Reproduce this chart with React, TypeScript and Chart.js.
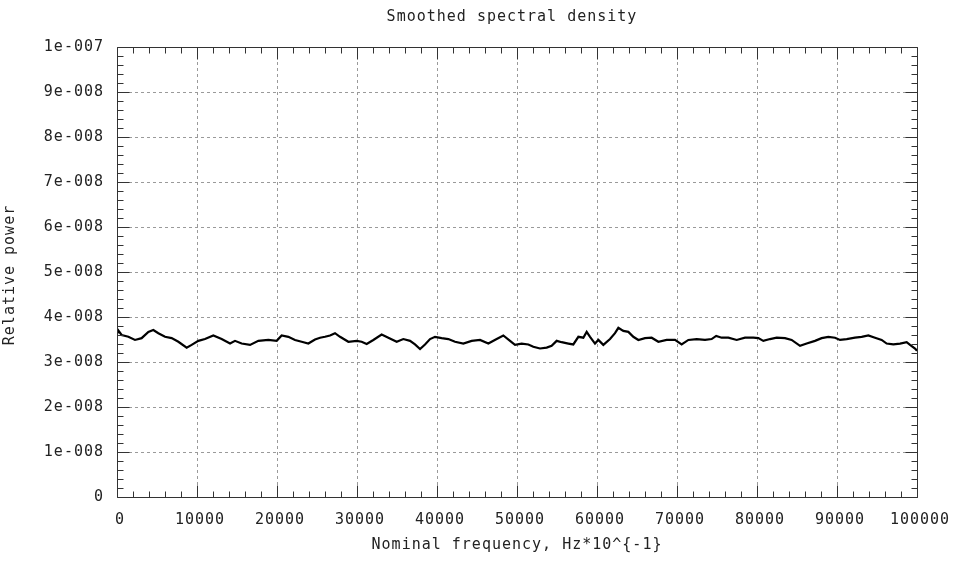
import React, { useEffect, useRef } from "react";
import { Chart, registerables } from "chart.js";

Chart.register(...registerables);

const CHART_TITLE = "Smoothed spectral density";
const X_TITLE = "Nominal frequency, Hz*10^{-1}";
const Y_TITLE = "Relative power";

const X_MIN = 0;
const X_MAX = 100000;
const X_MAJOR = 10000;
const X_MINOR = 2000;
const Y_MIN = 0;
const Y_MAX = 1e-7;
const Y_MAJOR = 1e-8;
const Y_MINOR = 2e-9;
const Y_UNIT = 1e-8;

const Y_TICK_LABELS = [
  "0", "1e-008", "2e-008", "3e-008", "4e-008", "5e-008",
  "6e-008", "7e-008", "8e-008", "9e-008", "1e-007",
];

// frequencies (Hz*10^-1)
const FREQ = [
  0, 170, 580, 1420, 2250, 3080, 3920, 4540, 5170, 6000,
  6830, 7670, 8710, 9330, 10170, 11000, 12040, 13080, 14130, 14750,
  15580, 16630, 17670, 18920, 19960, 20580, 21420, 22250, 23080, 23920,
  24750, 25380, 26000, 26630, 27250, 27880, 28920, 29960, 30580, 31210,
  32040, 33080, 33920, 34960, 35790, 36630, 37250, 37880, 38500, 39130,
  39750, 40580, 41420, 42250, 43290, 44330, 45380, 46420, 47460, 48290,
  49130, 49750, 50580, 51420, 52040, 52880, 53710, 54330, 54960, 55580,
  56420, 57040, 57670, 58290, 58710, 59130, 59750, 60170, 60790, 61630,
  62250, 62670, 63290, 63920, 64540, 65170, 66000, 66830, 67670, 68710,
  69750, 70580, 71420, 72460, 73500, 74330, 74900, 75580, 76420, 77460,
  78500, 79540, 80170, 80790, 81630, 82460, 83500, 84330, 85380, 86210,
  87250, 88080, 88920, 89750, 90380, 91210, 92250, 93080, 93920, 94750,
  95580, 96210, 97040, 97880, 98710, 99130, 99750, 100000,
];

// relative power, in units of 1e-8
const POWER_E8 = [
  3.62, 3.70, 3.60, 3.56, 3.49, 3.53, 3.67, 3.71, 3.64, 3.56,
  3.53, 3.45, 3.32, 3.38, 3.47, 3.51, 3.59, 3.51, 3.41, 3.47,
  3.41, 3.38, 3.47, 3.49, 3.47, 3.59, 3.56, 3.49, 3.45, 3.41,
  3.50, 3.54, 3.56, 3.59, 3.64, 3.56, 3.45, 3.47, 3.45, 3.40,
  3.49, 3.61, 3.54, 3.45, 3.51, 3.47, 3.39, 3.29, 3.39, 3.51,
  3.56, 3.53, 3.51, 3.45, 3.41, 3.47, 3.49, 3.41, 3.51, 3.59,
  3.47, 3.38, 3.41, 3.39, 3.34, 3.30, 3.32, 3.36, 3.47, 3.44,
  3.41, 3.39, 3.56, 3.54, 3.67, 3.56, 3.41, 3.49, 3.38, 3.51,
  3.64, 3.76, 3.69, 3.67, 3.56, 3.49, 3.53, 3.54, 3.45, 3.49,
  3.49, 3.39, 3.49, 3.51, 3.49, 3.51, 3.58, 3.54, 3.54, 3.49,
  3.54, 3.54, 3.53, 3.47, 3.51, 3.54, 3.53, 3.49, 3.36, 3.41,
  3.47, 3.53, 3.56, 3.54, 3.49, 3.51, 3.54, 3.56, 3.59, 3.54,
  3.49, 3.41, 3.39, 3.41, 3.44, 3.38, 3.30, 3.25,
];

const FONT_FAMILY = '"DejaVu Sans Mono", "Liberation Mono", monospace';
const FONT_SIZE = 15;
const TEXT_COLOR = "#222";
const FRAME_COLOR = "#333";
const GRID_COLOR = "#9a9a9a";

const framePlugin = {
  id: "gnuplotFrame",
  beforeDraw(chart: any) {
    chart.ctx.letterSpacing = "1px";
  },
  beforeDatasetsDraw(chart: any) {
    const ctx = chart.ctx;
    const xs = chart.scales.x;
    const ys = chart.scales.y;
    const { left, right, top, bottom } = chart.chartArea;
    ctx.save();
    ctx.strokeStyle = GRID_COLOR;
    ctx.lineWidth = 1;
    ctx.setLineDash([3, 3]);
    xs.ticks.forEach((t: any) => {
      if (t.value <= X_MIN || t.value >= X_MAX) return;
      const px = Math.round(xs.getPixelForValue(t.value)) + 0.5;
      ctx.beginPath();
      ctx.moveTo(px, bottom);
      ctx.lineTo(px, top);
      ctx.stroke();
    });
    ys.ticks.forEach((t: any) => {
      if (t.value <= Y_MIN + 1e-12 || t.value >= Y_MAX - 1e-12) return;
      const py = Math.round(ys.getPixelForValue(t.value)) + 0.5;
      ctx.beginPath();
      ctx.moveTo(left, py);
      ctx.lineTo(right, py);
      ctx.stroke();
    });
    ctx.restore();
  },
  afterDraw(chart: any) {
    const ctx = chart.ctx;
    const xs = chart.scales.x;
    const ys = chart.scales.y;
    const { left, right, top, bottom } = chart.chartArea;
    ctx.save();
    ctx.strokeStyle = FRAME_COLOR;
    ctx.lineWidth = 1;
    ctx.setLineDash([]);
    const L = Math.round(left) + 0.5;
    const R = Math.round(right) + 0.5;
    const T = Math.round(top) + 0.5;
    const B = Math.round(bottom) + 0.5;
    ctx.beginPath();
    ctx.moveTo(L, T);
    ctx.lineTo(R, T);
    ctx.lineTo(R, B);
    ctx.lineTo(L, B);
    ctx.closePath();
    ctx.stroke();

    const nx = Math.round((X_MAX - X_MIN) / X_MINOR);
    for (let i = 0; i <= nx; i++) {
      const v = X_MIN + i * X_MINOR;
      const major = i % Math.round(X_MAJOR / X_MINOR) === 0;
      const len = major ? 12 : 6;
      const px = Math.round(xs.getPixelForValue(v)) + 0.5;
      ctx.beginPath();
      ctx.moveTo(px, B);
      ctx.lineTo(px, B - len);
      ctx.moveTo(px, T);
      ctx.lineTo(px, T + len);
      ctx.stroke();
    }
    const ny = Math.round((Y_MAX - Y_MIN) / Y_MINOR);
    for (let i = 0; i <= ny; i++) {
      const v = Y_MIN + i * Y_MINOR;
      const major = i % Math.round(Y_MAJOR / Y_MINOR) === 0;
      const len = major ? 12 : 6;
      const py = Math.round(ys.getPixelForValue(v)) + 0.5;
      ctx.beginPath();
      ctx.moveTo(L, py);
      ctx.lineTo(L + len, py);
      ctx.moveTo(R, py);
      ctx.lineTo(R - len, py);
      ctx.stroke();
    }

    ctx.fillStyle = TEXT_COLOR;
    ctx.font = `${FONT_SIZE}px ${FONT_FAMILY}`;
    ctx.letterSpacing = "1px";
    ctx.textAlign = "center";
    ctx.textBaseline = "middle";
    ctx.fillText(CHART_TITLE, 512, 17);
    ctx.fillText(X_TITLE, (left + right) / 2, 545);
    ctx.translate(10, 275);
    ctx.rotate(-Math.PI / 2);
    ctx.fillText(Y_TITLE, 0, 0);
    ctx.restore();
  },
};

export default function App() {
  const canvasRef = useRef<HTMLCanvasElement | null>(null);

  useEffect(() => {
    if (!canvasRef.current) return;
    const points = FREQ.map((f, i) => ({ x: f, y: POWER_E8[i] * Y_UNIT }));
    const tickFont = { family: FONT_FAMILY, size: FONT_SIZE };
    const chart = new Chart(canvasRef.current, {
      type: "line",
      data: {
        datasets: [
          {
            data: points,
            borderColor: "#000",
            borderWidth: 2.2,
            pointRadius: 0,
            tension: 0,
            fill: false,
          },
        ],
      },
      options: {
        animation: false,
        responsive: false,
        maintainAspectRatio: false,
        layout: { padding: { top: 47, right: 38, bottom: 0, left: 0 } },
        plugins: {
          legend: { display: false },
          title: { display: false },
          tooltip: { enabled: false },
        },
        scales: {
          x: {
            type: "linear",
            min: X_MIN,
            max: X_MAX,
            grid: { display: false },
            border: { display: false },
            ticks: {
              stepSize: X_MAJOR,
              autoSkip: false,
              maxRotation: 0,
              padding: 6,
              labelOffset: 3,
              color: TEXT_COLOR,
              font: tickFont,
              callback: (v: any) => String(v),
            },
            afterFit: (s: any) => {
              s.height = 65;
              s.paddingLeft = 0;
              s.paddingRight = 0;
            },
          },
          y: {
            type: "linear",
            min: Y_MIN,
            max: Y_MAX,
            grid: { display: false },
            border: { display: false },
            ticks: {
              stepSize: Y_MAJOR,
              autoSkip: false,
              padding: 5,
              color: TEXT_COLOR,
              font: tickFont,
              callback: (v: any) => Y_TICK_LABELS[Math.round(Number(v) / Y_MAJOR)] ?? "",
            },
            afterFit: (s: any) => {
              s.width = 117;
              s.paddingTop = 0;
              s.paddingBottom = 0;
            },
          },
        },
      } as any,
      plugins: [framePlugin],
    });
    return () => chart.destroy();
  }, []);

  return (
    <div style={{ position: "absolute", left: 0, top: 0, width: 955, height: 562, background: "#fff" }}>
      <canvas ref={canvasRef} width={955} height={562} style={{ width: 955, height: 562, display: "block" }} />
    </div>
  );
}
